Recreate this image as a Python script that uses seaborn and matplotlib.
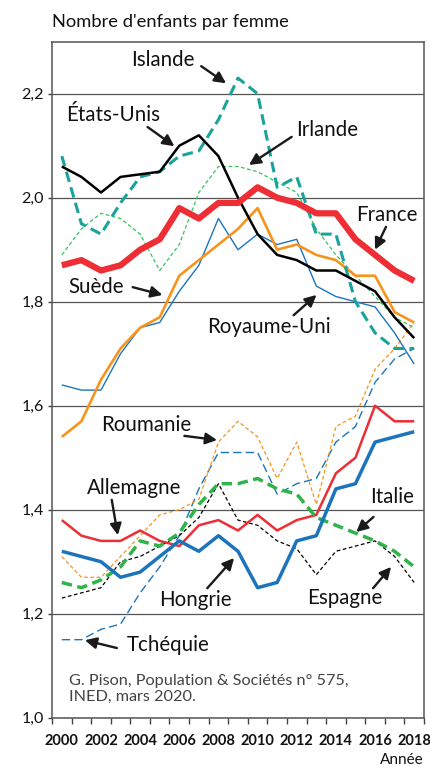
import numpy as np
import pandas as pd
import matplotlib
matplotlib.use("Agg")
from matplotlib import pyplot as plt
import seaborn as sns

years = list(range(2000, 2019))

# indicateur conjoncturel de fécondité
france = [1.87, 1.88, 1.86, 1.87, 1.90, 1.92, 1.98, 1.96, 1.99, 1.99, 2.02, 2.00, 1.99, 1.97, 1.97, 1.92, 1.89, 1.86, 1.84]
etats_unis = [2.06, 2.04, 2.01, 2.04, 2.045, 2.05, 2.10, 2.12, 2.08, 2.00, 1.93, 1.89, 1.88, 1.86, 1.86, 1.84, 1.82, 1.77, 1.73]
islande = [2.08, 1.95, 1.93, 1.99, 2.04, 2.05, 2.08, 2.09, 2.15, 2.23, 2.20, 2.02, 2.04, 1.93, 1.93, 1.80, 1.74, 1.71, 1.71]
irlande = [1.89, 1.94, 1.97, 1.96, 1.93, 1.86, 1.91, 2.01, 2.06, 2.06, 2.05, 2.03, 2.01, 1.94, 1.89, 1.85, 1.81, 1.77, 1.75]
suede = [1.54, 1.57, 1.65, 1.71, 1.75, 1.77, 1.85, 1.88, 1.91, 1.94, 1.98, 1.90, 1.91, 1.89, 1.88, 1.85, 1.85, 1.78, 1.76]
royaume_uni = [1.64, 1.63, 1.63, 1.70, 1.75, 1.76, 1.82, 1.87, 1.96, 1.90, 1.93, 1.91, 1.92, 1.83, 1.81, 1.80, 1.79, 1.74, 1.68]
roumanie = [1.31, 1.27, 1.27, 1.31, 1.35, 1.39, 1.40, 1.42, 1.53, 1.57, 1.54, 1.46, 1.53, 1.41, 1.56, 1.58, 1.67, 1.71, 1.76]
tchequie = [1.15, 1.15, 1.17, 1.18, 1.24, 1.29, 1.35, 1.44, 1.51, 1.51, 1.51, 1.43, 1.45, 1.46, 1.53, 1.56, 1.645, 1.69, 1.71]
allemagne = [1.38, 1.35, 1.34, 1.34, 1.36, 1.34, 1.33, 1.37, 1.38, 1.36, 1.39, 1.36, 1.38, 1.39, 1.47, 1.50, 1.60, 1.57, 1.57]
hongrie = [1.32, 1.31, 1.30, 1.27, 1.28, 1.31, 1.34, 1.32, 1.35, 1.32, 1.25, 1.26, 1.34, 1.35, 1.44, 1.45, 1.53, 1.54, 1.55]
italie = [1.26, 1.25, 1.265, 1.29, 1.34, 1.33, 1.355, 1.41, 1.45, 1.45, 1.46, 1.44, 1.43, 1.385, 1.37, 1.355, 1.34, 1.32, 1.29]
espagne = [1.23, 1.24, 1.25, 1.30, 1.31, 1.33, 1.35, 1.385, 1.45, 1.38, 1.37, 1.34, 1.325, 1.275, 1.32, 1.33, 1.34, 1.31, 1.26]

series = {
    "Tchéquie": tchequie, "Roumanie": roumanie, "Irlande": irlande, "Espagne": espagne,
    "Royaume-Uni": royaume_uni, "Suède": suede, "Allemagne": allemagne, "Italie": italie,
    "Hongrie": hongrie, "Islande": islande, "États-Unis": etats_unis, "France": france,
}

df = pd.DataFrame(
    [(pays, an, v) for pays, vals in series.items() for an, v in zip(years, vals)],
    columns=["pays", "annee", "icf"],
)

bleu = "#1c75bc"
orange = "#f7941d"
vert = "#2fb34a"
rouge = "#ee2e34"
styles = {
    "Tchéquie": dict(color=bleu, lw=1.0, ls=(0, (6, 3))),
    "Roumanie": dict(color=orange, lw=0.9, ls=(0, (3, 2))),
    "Irlande": dict(color="#33c45a", lw=0.9, ls=(0, (3, 2))),
    "Espagne": dict(color="black", lw=0.9, ls=(0, (3, 2))),
    "Royaume-Uni": dict(color=bleu, lw=1.0, ls="-"),
    "Suède": dict(color=orange, lw=1.9, ls="-"),
    "Allemagne": dict(color=rouge, lw=1.8, ls="-"),
    "Italie": dict(color=vert, lw=2.5, ls=(0, (3, 1.6))),
    "Hongrie": dict(color=bleu, lw=2.5, ls="-"),
    "Islande": dict(color="#1aa39a", lw=2.2, ls=(0, (3.5, 1.8))),
    "États-Unis": dict(color="black", lw=1.8, ls="-"),
    "France": dict(color=rouge, lw=4.5, ls="-"),
}

sns.set_theme(style="ticks")
plt.rcParams["font.family"] = ["Lato", "DejaVu Sans"]

fig = plt.figure(figsize=(4.3, 7.67), dpi=100)
ax = fig.add_axes([0.121, 0.0643, 0.865, 0.8813])

for pays, st in styles.items():
    sns.lineplot(data=df[df["pays"] == pays], x="annee", y="icf", ax=ax,
                 color=st["color"], linewidth=st["lw"], linestyle=st["ls"],
                 legend=False, solid_capstyle="butt", dash_capstyle="butt")

ax.set_xlim(1999.5, 2018.5)
ax.set_ylim(1.0, 2.3)
yt = [1.0, 1.2, 1.4, 1.6, 1.8, 2.0, 2.2]
ax.set_yticks(yt)
ax.set_yticklabels([f"{v:.1f}".replace(".", ",") for v in yt], fontsize=11.5)
ax.set_xticks(range(2000, 2019, 2))
ax.set_xticklabels([str(a) for a in range(2000, 2019, 2)], fontsize=10.5, fontweight="bold")
ax.set_xticks(np.arange(1999.5, 2019, 1), minor=True)
ax.tick_params(axis="x", which="major", length=0, pad=12, colors="#111")
ax.tick_params(axis="x", which="minor", length=4, width=1, color="#444", direction="out")
ax.tick_params(axis="y", length=3, width=1, color="#444", pad=3, colors="#111")
ax.set_xlabel("")
ax.set_ylabel("")
ax.grid(axis="y", color="#555", lw=0.9)
ax.set_axisbelow(True)
for s in ax.spines.values():
    s.set_visible(True)
    s.set_color("#555")
    s.set_linewidth(1.1)

flk = dict(arrowstyle="-|>", color="#1a1a1a", lw=1.7, mutation_scale=17, shrinkA=0, shrinkB=0)
labels = [
    ("Islande", (2005.14, 2.265), (2007.12, 2.253), (2008.39, 2.22)),
    ("États-Unis", (2002.6, 2.159), (2004.38, 2.136), (2005.75, 2.099)),
    ("Irlande", (2013.57, 2.130), (2011.74, 2.117), (2009.56, 2.063)),
    ("France", (2016.61, 1.966), (2016.56, 1.944), (2016.0, 1.90)),
    ("Suède", (2001.74, 1.828), (2003.62, 1.828), (2005.14, 1.813)),
    ("Royaume-Uni", (2010.57, 1.751), (2011.84, 1.774), (2013.01, 1.813)),
    ("Roumanie", (2004.30, 1.563), (2006.26, 1.542), (2007.93, 1.534)),
    ("Allemagne", (2003.67, 1.442), (2002.55, 1.419), (2002.86, 1.351)),
    ("Italie", (2016.89, 1.424), (2015.92, 1.386), (2015.04, 1.357)),
    ("Hongrie", (2006.82, 1.226), (2007.43, 1.249), (2008.8, 1.307)),
    ("Espagne", (2014.43, 1.230), (2015.9, 1.249), (2016.82, 1.29)),
    ("Tchéquie", (2005.45, 1.140), (2002.81, 1.134), (2001.18, 1.149)),
]
for txt, pos, queue, tete in labels:
    ax.text(pos[0], pos[1], txt, fontsize=14.8, ha="center", va="center", color="#111")
    ax.annotate("", xy=tete, xytext=queue, arrowprops=flk)

ax.text(2000.37, 1.055, "G. Pison, Population & Sociétés n° 575,\nINED, mars 2020.",
        fontsize=11.7, ha="left", va="center", color="#444", linespacing=1.15)

fig.text(0.121, 0.971, "Nombre d'enfants par femme", fontsize=13.2, ha="left", va="center", color="#111")
fig.text(0.986, 0.0091, "Année", fontsize=11, ha="right", va="center", color="#111")

plt.savefig("out.png", dpi=100)
